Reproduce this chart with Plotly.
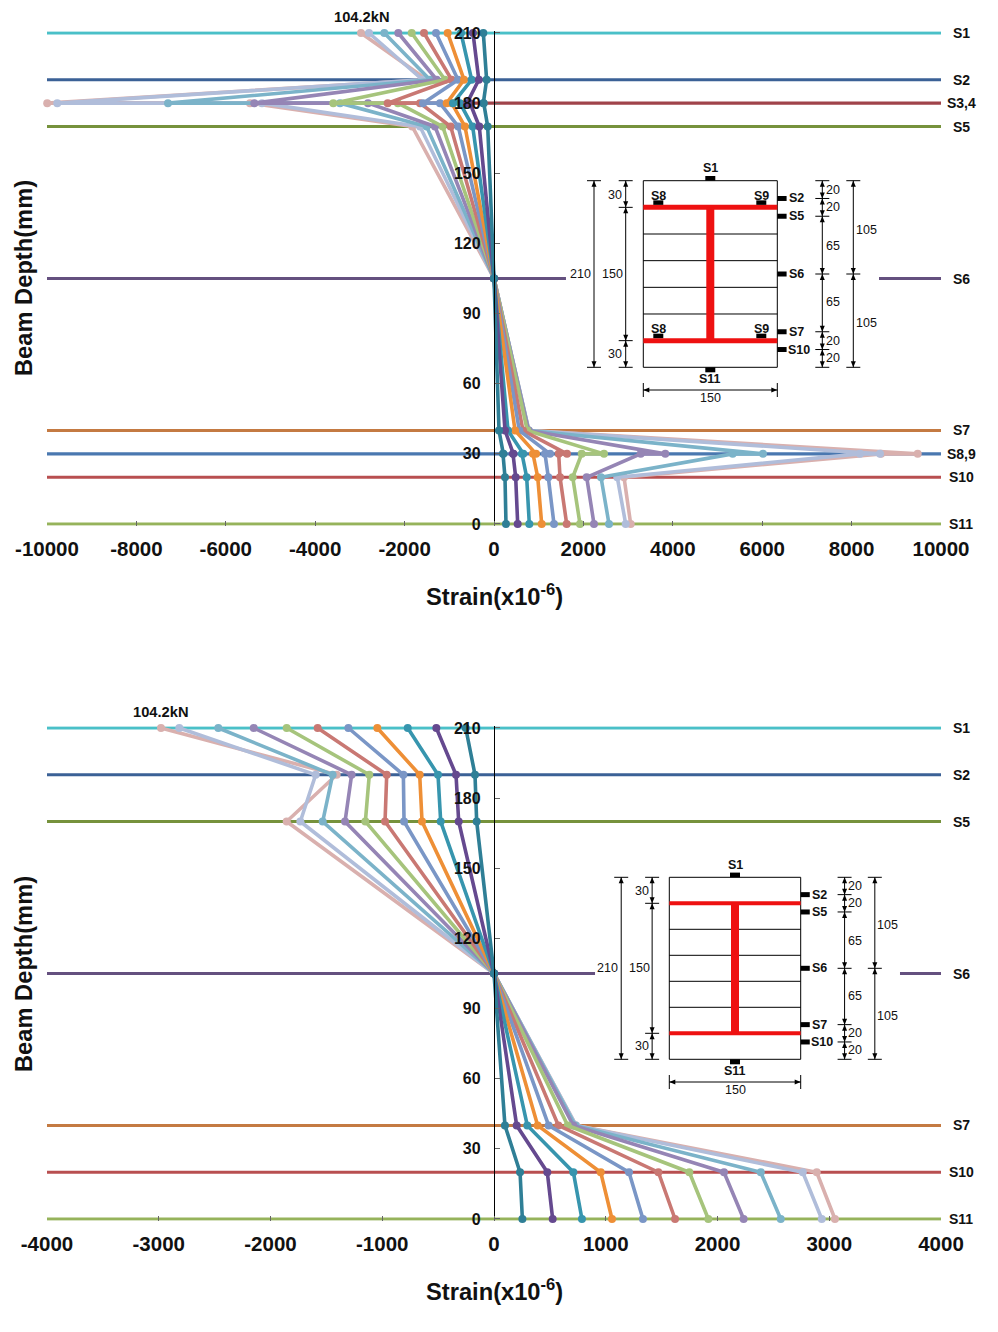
import plotly.graph_objects as go

W, H = 998, 1332

# Load steps, largest load first (drawn bottom to top)
series_colors = ["#d9b0ae", "#b0bdda", "#7bb3c9", "#9585b5", "#a6c47c", "#c97873",
                 "#7a96c6", "#ee8f36", "#3795ae", "#65498f", "#2f7f96"]

# Top chart: strain per gauge
top_depths = [210, 190, 180, 180, 170, 105, 40, 30, 30, 20, 0]
top_S1 = [-2975, -2796, -2454, -2141, -1841, -1566, -1298, -1036, -738, -470, -239]
top_S2 = [-1500, -1600, -1432, -1282, -1096, -946, -805, -671, -500, -340, -165]
top_S3 = [-9995, -9770, -7293, -5362, -3595, -2378, -1588, -1058, -917, -604, -239]
top_S4 = [-5459, -5190, -3445, -2819, -2150, -1655, -1208, -946, -760, -537, -230]
top_S5 = [-1830, -1655, -1506, -1320, -1148, -969, -799, -649, -477, -329, -141]
top_S6 = [0, 0, 0, 0, 0, 0, 0, 0, 0, 0, 0]
top_S7 = [780, 780, 775, 770, 745, 649, 566, 470, 313, 246, 112]
top_S8 = [9479, 8635, 6018, 3832, 2461, 1633, 1253, 940, 656, 433, 209]
top_S9 = [8660, 8188, 5340, 3282, 1962, 1447, 1141, 872, 626, 425, 201]
top_S10 = [2908, 2758, 2394, 2074, 1761, 1477, 1215, 978, 731, 485, 246]
top_S11 = [3058, 2946, 2573, 2237, 1924, 1626, 1342, 1067, 790, 530, 268]
top_rows = [top_S1, top_S2, top_S3, top_S4, top_S5, top_S6, top_S7, top_S8, top_S9, top_S10, top_S11]

# Bottom chart: strain per gauge
bot_depths = [210, 190, 170, 105, 40, 20, 0]
bot_S1 = [-2980, -2816, -2467, -2150, -1855, -1578, -1303, -1044, -772, -516, -253]
bot_S2 = [-1408, -1596, -1444, -1274, -1116, -960, -811, -665, -501, -340, -170]
bot_S5 = [-1855, -1733, -1533, -1333, -1151, -975, -805, -644, -477, -316, -155]
bot_S6 = [0, 0, 0, 0, 0, 0, 0, 0, 0, 0, 0]
bot_S7 = [734, 734, 727, 710, 660, 576, 489, 391, 298, 203, 98]
bot_S10 = [2888, 2763, 2387, 2058, 1748, 1471, 1208, 955, 710, 477, 233]
bot_S11 = [3051, 2933, 2566, 2234, 1918, 1620, 1333, 1056, 787, 525, 254]
bot_rows = [bot_S1, bot_S2, bot_S5, bot_S6, bot_S7, bot_S10, bot_S11]

# Gauge level lines: name, depth, colour
top_gauges = [("S1", 210, "#4ac0c8"), ("S2", 190, "#3b6196"), ("S3,4", 180, "#a0434a"),
              ("S5", 170, "#76923c"), ("S7", 40, "#c47a42"), ("S8,9", 30, "#4a78b0"),
              ("S10", 20, "#b84f50"), ("S11", 0, "#96b35b")]
bot_gauges = [("S1", 210, "#4ac0c8"), ("S2", 190, "#3b6196"), ("S5", 170, "#76923c"),
              ("S7", 40, "#c47a42"), ("S10", 20, "#b84f50"), ("S11", 0, "#96b35b")]
s6_color = "#64507f"
top_s6_x = [-10000, 1610, None, 8613, 10000]
bot_s6_x = [-4000, 904, None, 3633, 4000]

top_xticks = list(range(-10000, 10001, 2000))
bot_xticks = list(range(-4000, 4001, 1000))
y_ticks = list(range(0, 211, 30))

FONT = "Liberation Sans, Arial, sans-serif"


def px(x):
    return x / W


def py(y):
    return 1 - y / H


fig = go.Figure()


def add_chart(xa, ya, gauges, s6x, xmax, depths, rows):
    for name, depth, color in gauges:
        fig.add_trace(go.Scatter(x=[-xmax, xmax], y=[depth, depth], mode="lines", xaxis=xa, yaxis=ya,
                                 line=dict(color=color, width=3.2), showlegend=False, hoverinfo="skip",
                                 cliponaxis=False))
    fig.add_trace(go.Scatter(x=s6x, y=[105] * len(s6x), mode="lines", xaxis=xa, yaxis=ya,
                             line=dict(color=s6_color, width=3.2), showlegend=False, hoverinfo="skip",
                             cliponaxis=False))
    for i, color in enumerate(series_colors):
        fig.add_trace(go.Scatter(x=[r[i] for r in rows], y=depths, mode="lines+markers", xaxis=xa, yaxis=ya,
                                 line=dict(color=color, width=3.6), marker=dict(color=color, size=8),
                                 showlegend=False, cliponaxis=False))


add_chart("x", "y", top_gauges, top_s6_x, 10000, top_depths, top_rows)
add_chart("x2", "y2", bot_gauges, bot_s6_x, 4000, bot_depths, bot_rows)

# small overscan so the gauge lines at 0 and 210 keep their full width
PAD_MM = 0.8
PAD_PX = PAD_MM * 491 / 210

axis_x = dict(showgrid=False, zeroline=False, showline=False, ticks="inside", ticklen=5, tickwidth=1,
              tickcolor="#666", tickfont=dict(family=FONT, size=20.5, color="#111", weight="bold"),
              ticklabelstandoff=9, automargin=False, tickmode="array")
axis_y = dict(showgrid=False, zeroline=False, showline=True, linecolor="black", linewidth=1.3,
              ticks="inside", ticklen=5, tickwidth=1, tickcolor="#666", range=[-PAD_MM, 210 + PAD_MM],
              tickvals=y_ticks, tickfont=dict(family=FONT, size=16, color="#111", weight="bold"),
              anchor="free", position=px(494), ticklabelstandoff=10, automargin=False)

annotations = []
shapes = []


def text(x, y, s, size=12.5, bold=False, color="#111", angle=0):
    annotations.append(dict(xref="paper", yref="paper", x=px(x), y=py(y), text=f"<b>{s}</b>" if bold else s,
                            showarrow=False, xanchor="center", yanchor="middle", textangle=angle,
                            font=dict(family=FONT, size=size, color=color)))


def seg(x1, y1, x2, y2, color="black", width=1):
    shapes.append(dict(type="line", xref="paper", yref="paper", x0=px(x1), y0=py(y1), x1=px(x2), y1=py(y2),
                       line=dict(color=color, width=width)))


def box(x1, y1, x2, y2, color="black"):
    shapes.append(dict(type="rect", xref="paper", yref="paper", x0=px(x1), y0=py(y1), x1=px(x2), y1=py(y2),
                       fillcolor=color, line=dict(width=0)))


def tri(a, b, c):
    path = "M {} {} L {} {} L {} {} Z".format(px(a[0]), py(a[1]), px(b[0]), py(b[1]), px(c[0]), py(c[1]))
    shapes.append(dict(type="path", xref="paper", yref="paper", path=path, fillcolor="black", line=dict(width=0)))


def dim_v(x, y1, y2):
    seg(x, y1, x, y2)
    tri((x, y1), (x - 2.5, y1 + 6), (x + 2.5, y1 + 6))
    tri((x, y2), (x - 2.5, y2 - 6), (x + 2.5, y2 - 6))


def dim_h(x1, x2, y):
    seg(x1, y, x2, y)
    tri((x1, y), (x1 + 6, y - 2.5), (x1 + 6, y + 2.5))
    tri((x2, y), (x2 - 6, y - 2.5), (x2 - 6, y + 2.5))


def section(x0, y0, w, h, flange, web, flange_gauges):
    s = h / 186.6
    yy = lambda d: y0 + d * h / 210
    xc = x0 + w / 2
    xr = x0 + w
    seg(x0, y0, xr, y0); seg(x0, y0 + h, xr, y0 + h); seg(x0, y0, x0, y0 + h); seg(xr, y0, xr, y0 + h)
    for d in (60, 90, 120, 150):
        seg(x0, yy(d), xr, yy(d))
    for d in (30, 180):
        box(x0, yy(d) - flange / 2, xr, yy(d) + flange / 2, "#ee1111")
    box(xc - web / 2, yy(30), xc + web / 2, yy(180), "#ee1111")
    # gauges on top and bottom faces
    box(xc - 5, y0 - 4.7, xc + 5, y0); text(xc, y0 - 12.5, "S1", 12.5, True)
    box(xc - 5, y0 + h, xc + 5, y0 + h + 5); text(xc, y0 + h + 12, "S11", 12.5, True)
    # side gauges
    for name, d in (("S2", 20), ("S5", 40), ("S6", 105), ("S7", 170), ("S10", 190)):
        box(xr, yy(d) - 2.5, xr + 9.3 * s, yy(d) + 2.5)
        text(xr + (19.5 if name != "S10" else 22) * s, yy(d), name, 12.5, True)
    if flange_gauges:
        for d, ty in ((30, -11.5), (180, -11.5)):
            for xl, name in ((x0 + 15, "S8"), (x0 + 118, "S9")):
                box(xl - 5, yy(d) - 7, xl + 5, yy(d) - 2.5)
                text(xl, yy(d) + ty, name, 12.5, True)
    # left dimensions
    xa = x0 - 49.3 * s
    dim_v(xa, y0, y0 + h)
    for d in (0, 210):
        seg(xa - 7, yy(d), xa + 7, yy(d))
    xb = x0 - 17.6 * s
    dim_v(xb, yy(0), yy(30)); dim_v(xb, yy(30), yy(180)); dim_v(xb, yy(180), yy(210))
    for d in (0, 30, 180, 210):
        seg(xb - 7, yy(d), xb + 7, yy(d))
    text(x0 - 63.3 * s, yy(105), "210")
    text(x0 - 30.6 * s, yy(105), "150")
    text(x0 - 28.3 * s, yy(16), "30")
    text(x0 - 28.3 * s, yy(195), "30")
    # right dimensions
    xc1 = xr + 45 * s
    levels = (0, 20, 40, 105, 170, 190, 210)
    for a, b in zip(levels, levels[1:]):
        dim_v(xc1, yy(a), yy(b))
    for d in levels:
        seg(xc1 - 7, yy(d), xc1 + 7, yy(d))
    xc2 = xr + 76 * s
    dim_v(xc2, yy(0), yy(105)); dim_v(xc2, yy(105), yy(210))
    for d in (0, 105, 210):
        seg(xc2 - 7, yy(d), xc2 + 7, yy(d))
    for d, v in ((10, "20"), (30, "20"), (180, "20"), (199, "20")):
        text(xr + 56 * s, yy(d), v)
    for d in (74, 137):
        text(xr + 55.4 * s, yy(d), "65")
    for d in (55, 160):
        text(xr + 88.7 * s, yy(d), "105")
    # width dimension
    dim_h(x0, xr, y0 + h + 22.7)
    seg(x0, y0 + h + 15.7, x0, y0 + h + 29.7); seg(xr, y0 + h + 15.7, xr, y0 + h + 29.7)
    text(xc, y0 + h + 30.7, "150")


section(643.3, 180.7, 134, 186.6, 5, 8, True)
section(669.3, 877.3, 131.4, 182, 4, 8, False)


def gauge_label(name, y):
    text(961, y, name, 14, True)


top_y = lambda d: 524 - d * 491 / 210
bot_y = lambda d: 1219 - d * 491 / 210
for name, d, _ in top_gauges:
    gauge_label(name, top_y(d))
gauge_label("S6", top_y(105))
for name, d, _ in bot_gauges:
    gauge_label(name, bot_y(d))
gauge_label("S6", bot_y(105))

text(362, 17, "104.2kN", 14.7, True)
text(161, 712, "104.2kN", 14.7, True)
text(24, 278, "Beam Depth(mm)", 23.7, True, "#111", -90)
text(24, 974, "Beam Depth(mm)", 23.7, True, "#111", -90)
text(494, 595, "Strain(x10<sup>-6</sup>)", 23.7, True)
text(494, 1290, "Strain(x10<sup>-6</sup>)", 23.7, True)

fig.update_layout(
    width=W, height=H, margin=dict(l=0, r=0, t=0, b=0), autosize=False,
    paper_bgcolor="white", plot_bgcolor="rgba(0,0,0,0)", showlegend=False,
    xaxis=dict(axis_x, domain=[px(47), px(941)], range=[-10000, 10000], tickvals=top_xticks,
               ticktext=[str(v) for v in top_xticks], anchor="y"),
    yaxis=dict(axis_y, domain=[py(524 + PAD_PX), py(33 - PAD_PX)]),
    xaxis2=dict(axis_x, domain=[px(47), px(941)], range=[-4000, 4000], tickvals=bot_xticks,
                ticktext=[str(v) for v in bot_xticks], anchor="y2"),
    yaxis2=dict(axis_y, domain=[py(1219 + PAD_PX), py(728 - PAD_PX)]),
    shapes=shapes, annotations=annotations,
)

fig.write_html("out.html", config=dict(displayModeBar=False),
               post_script="document.body.style.margin='0';document.body.style.background='white';")
